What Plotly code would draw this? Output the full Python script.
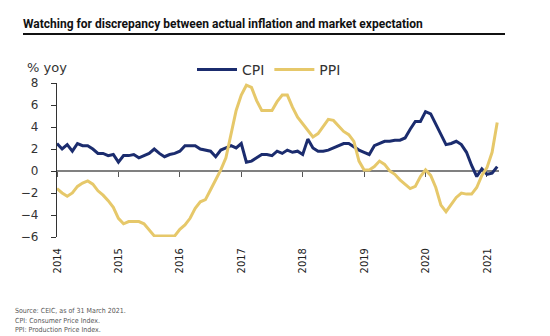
import plotly.graph_objects as go

# ---------------- data (monthly, Jan 2014 - Mar 2021) ----------------
start_year = 2014
cpi = [
    2.5, 2.0, 2.4, 1.8, 2.5, 2.3, 2.3, 2.0, 1.6, 1.6, 1.4, 1.5,   # 2014
    0.8, 1.4, 1.4, 1.5, 1.2, 1.4, 1.6, 2.0, 1.6, 1.3, 1.5, 1.6,   # 2015
    1.8, 2.3, 2.3, 2.3, 2.0, 1.9, 1.8, 1.3, 1.9, 2.1, 2.3, 2.1,   # 2016
    2.5, 0.8, 0.9, 1.2, 1.5, 1.5, 1.4, 1.8, 1.6, 1.9, 1.7, 1.8,   # 2017
    1.5, 2.9, 2.1, 1.8, 1.8, 1.9, 2.1, 2.3, 2.5, 2.5, 2.2, 1.9,   # 2018
    1.7, 1.5, 2.3, 2.5, 2.7, 2.7, 2.8, 2.8, 3.0, 3.8, 4.5, 4.5,   # 2019
    5.4, 5.2, 4.3, 3.3, 2.4, 2.5, 2.7, 2.4, 1.7, 0.5, -0.5, 0.2,  # 2020
    -0.3, -0.2, 0.4,                                              # 2021
]
ppi = [
    -1.6, -2.0, -2.3, -2.0, -1.4, -1.1, -0.9, -1.2, -1.8, -2.2, -2.7, -3.3,  # 2014
    -4.3, -4.8, -4.6, -4.6, -4.6, -4.8, -5.4, -5.9, -5.9, -5.9, -5.9, -5.9,  # 2015
    -5.3, -4.9, -4.3, -3.4, -2.8, -2.6, -1.7, -0.8, 0.1, 1.2, 3.3, 5.5,      # 2016
    6.9, 7.8, 7.6, 6.4, 5.5, 5.5, 5.5, 6.3, 6.9, 6.9, 5.8, 4.9,              # 2017
    4.3, 3.7, 3.1, 3.4, 4.1, 4.7, 4.6, 4.1, 3.6, 3.3, 2.7, 0.9,              # 2018
    0.1, 0.1, 0.4, 0.9, 0.6, 0.0, -0.3, -0.8, -1.2, -1.6, -1.4, -0.5,        # 2019
    0.1, -0.4, -1.5, -3.1, -3.7, -3.0, -2.4, -2.0, -2.1, -2.1, -1.5, -0.4,   # 2020
    0.3, 1.7, 4.4,                                                            # 2021
]
months = [start_year + i / 12 for i in range(len(cpi))]
year_ticks = [2014, 2015, 2016, 2017, 2018, 2019, 2020, 2021]
year_labels = [str(y) for y in year_ticks]
y_ticks = [-6, -4, -2, 0, 2, 4, 6, 8]

title_text = "Watching for discrepancy between actual inflation and market expectation"
unit_text = "% yoy"
notes = ["Source: CEIC, as of 31 March 2021.",
         "CPI: Consumer Price Index.",
         "PPI: Production Price Index."]

CPI_COLOR = "#1b2c6e"
PPI_COLOR = "#e6c86a"

# ---------------- layout geometry ----------------
W, H = 550, 336
ML, MR, MT, MB = 57, 51, 83, 99
PW, PH = W - ML - MR, H - MT - MB
X_RANGE = [2014, 2021 + 2.35 / 12]
Y_RANGE = [-6, 8]


def px_x(px):
    return (px - ML) / PW


def px_y(py):
    return 1 - (py - MT) / PH


fig = go.Figure()
fig.add_trace(go.Scatter(x=months, y=cpi, name="CPI", mode="lines",
                         line=dict(color=CPI_COLOR, width=3), xaxis="x", yaxis="y"))
fig.add_trace(go.Scatter(x=months, y=ppi, name="PPI", mode="lines",
                         line=dict(color=PPI_COLOR, width=3), xaxis="x2", yaxis="y"))

zero_pos = (0 - Y_RANGE[0]) / (Y_RANGE[1] - Y_RANGE[0])

fig.update_layout(
    width=W, height=H,
    margin=dict(l=ML, r=MR, t=MT, b=MB),
    paper_bgcolor="white", plot_bgcolor="white",
    font=dict(family="DejaVu Sans", color="#333333"),
    title=dict(text="<b>" + title_text + "</b>", x=23 / W, xanchor="left",
               xref="container", y=1 - 24 / H, yref="container", yanchor="middle",
               font=dict(family="Roboto", size=12, color="#111111")),
    xaxis=dict(range=X_RANGE, anchor="free", position=zero_pos,
               tickvals=year_ticks, showticklabels=False,
               ticks="outside", ticklen=5, tickwidth=1, tickcolor="#555555",
               showline=True, linecolor="#808080", linewidth=1.5,
               showgrid=False, zeroline=False, layer="below traces"),
    xaxis2=dict(range=X_RANGE, overlaying="x", anchor="y", side="bottom",
                tickvals=year_ticks, ticktext=year_labels, tickangle=-90,
                ticks="", showline=False, showgrid=False, zeroline=False,
                ticklabelstandoff=8,
                tickfont=dict(family="DejaVu Sans Condensed, Liberation Sans Narrow, DejaVu Sans",
                              size=11, color="#222222")),
    yaxis=dict(range=Y_RANGE, tickvals=y_ticks, ticks="outside", ticklen=5,
               tickcolor="#333333", showline=True, linecolor="#333333", linewidth=1.2,
               showgrid=False, zeroline=False, ticklabelstandoff=10,
               tickfont=dict(family="DejaVu Sans", size=12, color="#333333")),
    showlegend=True,
    legend=dict(orientation="h", x=px_x(192), xanchor="left",
                y=px_y(70), yanchor="middle", bgcolor="rgba(0,0,0,0)",
                font=dict(family="DejaVu Sans", size=14, color="#333333"),
                itemwidth=40, tracegroupgap=0),
)

fig.add_annotation(text=unit_text, xref="paper", yref="paper",
                   x=px_x(25), y=px_y(67), xanchor="left", yanchor="middle",
                   showarrow=False, font=dict(family="DejaVu Sans", size=13, color="#333333"))

fig.add_shape(type="line", xref="paper", yref="paper",
              x0=px_x(23), x1=px_x(505), y0=px_y(34), y1=px_y(34),
              line=dict(color="#111111", width=2))

for i, t in enumerate(notes):
    fig.add_annotation(text=t, xref="paper", yref="paper",
                       x=px_x(13), y=px_y(311 + 9.5 * i), xanchor="left", yanchor="middle",
                       showarrow=False,
                       font=dict(family="Liberation Sans Narrow, DejaVu Sans Condensed, DejaVu Sans",
                                 size=7, color="#555555"))

fig.write_html("out.html")
